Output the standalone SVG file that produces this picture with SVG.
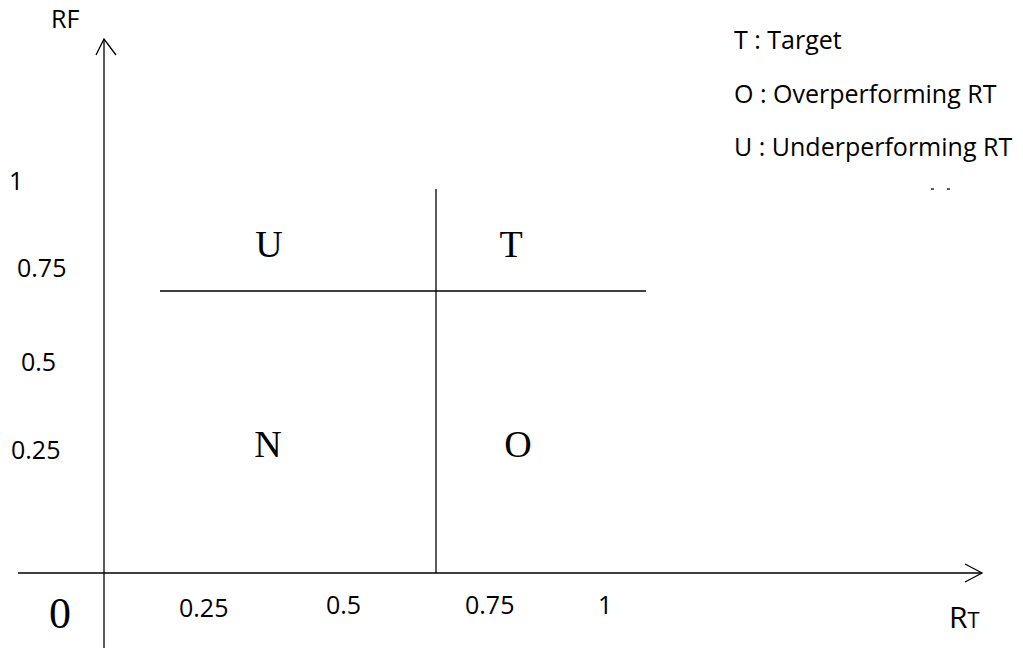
<svg xmlns="http://www.w3.org/2000/svg" width="1023" height="650" viewBox="0 0 1023 650">
<style>
.ax{stroke:#000;stroke-width:1.3;fill:none}
.ln{stroke:#000;stroke-width:1.3;fill:none}
.s{font-family:"Open Sans","Liberation Sans",sans-serif;font-size:25px;fill:#000}
.r{font-family:"Liberation Serif","Times New Roman",serif;font-size:38px;fill:#000}
</style>
<rect width="1023" height="650" fill="#fff"/>
<g id="connectors">
<line class="ax" x1="104" y1="40" x2="104" y2="648"/>
<polyline class="ax" points="96,55 104,39 116,55"/>
<line class="ax" x1="18" y1="573" x2="982" y2="573"/>
<polyline class="ax" points="965,564 982,573 965,582"/>
<line class="ln" x1="436" y1="189" x2="436" y2="573"/>
<line class="ln" x1="160" y1="291" x2="646" y2="291"/>
<line class="ln" x1="931" y1="189" x2="934" y2="189"/>
<line class="ln" x1="947" y1="189" x2="950" y2="189"/>
</g>
<g id="axis-labels">
<text class="s" x="51" y="28">RF</text>
<text class="s" x="9" y="190">1</text>
<text class="s" x="17" y="277">0.75</text>
<text class="s" x="21" y="371">0.5</text>
<text class="s" x="11" y="459">0.25</text>
<text class="s" x="179" y="617">0.25</text>
<text class="s" x="326" y="614">0.5</text>
<text class="s" x="465" y="614">0.75</text>
<text class="s" x="598" y="614">1</text>
<text class="r" x="49" y="628" style="font-size:44px">0</text>
<text class="s" x="949" y="628" style="font-size:30px">R<tspan style="font-size:22px">T</tspan></text>
</g>
<g id="legend">
<text class="s" x="734" y="49">T : Target</text>
<text class="s" x="734" y="103">O : Overperforming RT</text>
<text class="s" x="734" y="156">U : Underperforming RT</text>
</g>
<g id="quadrant-U"><text class="r" x="269" y="257" text-anchor="middle">U</text></g>
<g id="quadrant-T"><text class="r" x="511" y="257" text-anchor="middle">T</text></g>
<g id="quadrant-N"><text class="r" x="268" y="457" text-anchor="middle">N</text></g>
<g id="quadrant-O"><text class="r" x="518" y="457" text-anchor="middle">O</text></g>
</svg>
